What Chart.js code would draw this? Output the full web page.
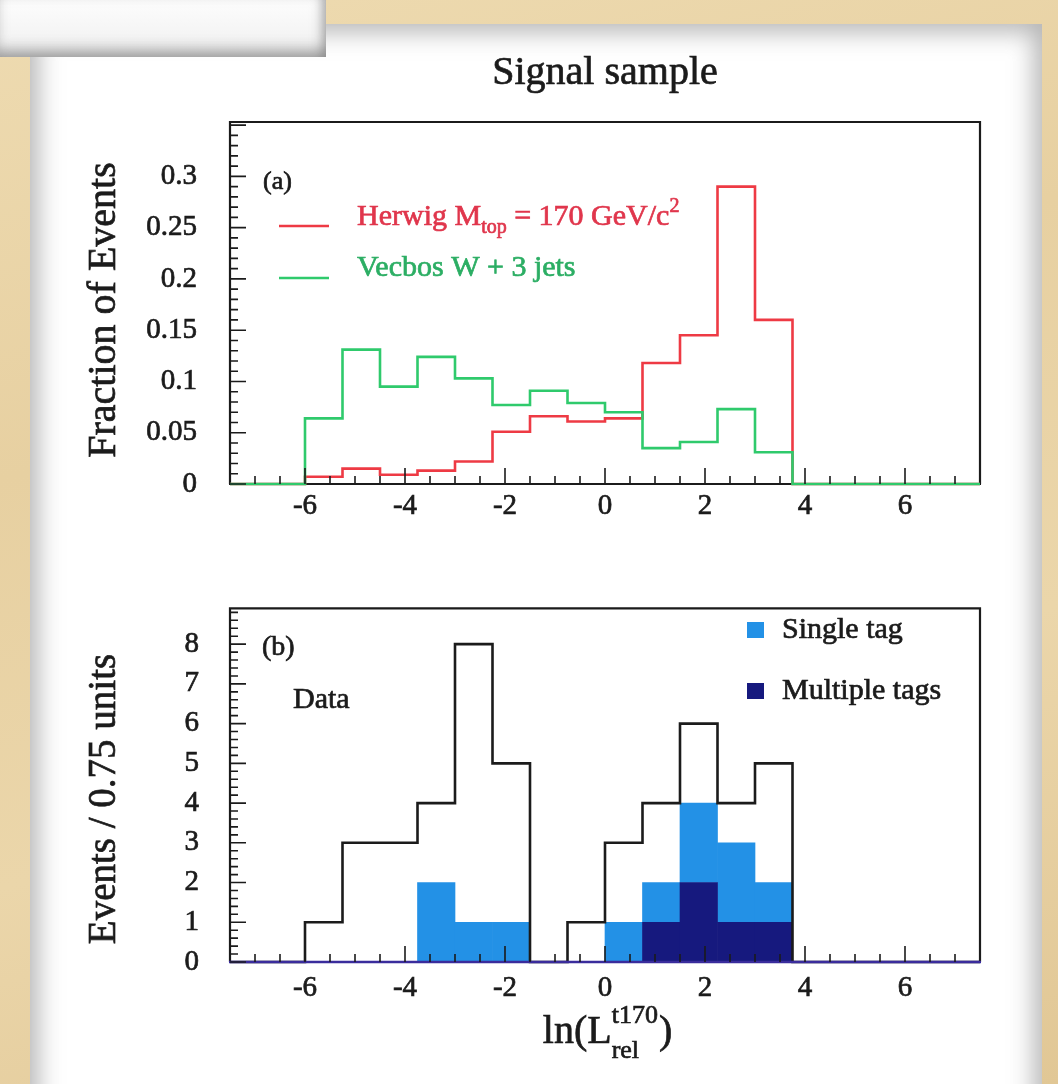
<!DOCTYPE html>
<html>
<head>
<meta charset="utf-8">
<title>Signal sample</title>
<script src="https://cdn.jsdelivr.net/npm/chart.js@4.4.1/dist/chart.umd.min.js"></script>
<style>
  html, body { margin: 0; padding: 0; }
  body {
    width: 1058px; height: 1084px; overflow: hidden; position: relative;
    background: linear-gradient(165deg, #eedbb1 0%, #e7d0a1 35%, #ebd6aa 65%, #e1c795 100%);
  }
  .panel {
    position: absolute; left: 30px; top: 24px; width: 1012px; height: 1100px;
    background: #fff;
    box-shadow: inset 0 0 24px 8px rgba(120, 120, 120, 0.55);
  }
  .strip {
    position: absolute; left: 0; top: 0; width: 326px; height: 57px;
    background: linear-gradient(#fdfdfd, #efefef);
    box-shadow: inset 0 -12px 14px -5px rgba(110, 110, 110, 0.6),
                inset -10px 0 12px -6px rgba(110, 110, 110, 0.5);
  }
  canvas { position: absolute; left: 0; }
  #top { top: 0; }
  #bottom { top: 560px; }
</style>
</head>
<body>
<div class="panel"></div>
<div class="strip"></div>
<canvas id="top" width="1058" height="560"></canvas>
<canvas id="bottom" width="1058" height="524"></canvas>
<script>
// histogram binning: 20 bins of 0.75 from -7.5 to 7.5
const binEdges = [-7.5, -6.75, -6, -5.25, -4.5, -3.75, -3, -2.25, -1.5, -0.75,
                  0, 0.75, 1.5, 2.25, 3, 3.75, 4.5, 5.25, 6, 6.75, 7.5];

// (a) normalised shapes
const herwigFrac = [0, 0, 0.007, 0.015, 0.009, 0.013, 0.022, 0.051, 0.066, 0.061,
                    0.064, 0.118, 0.145, 0.290, 0.160, 0, 0, 0, 0, 0];
const vecbosFrac = [0, 0, 0.064, 0.131, 0.095, 0.124, 0.103, 0.077, 0.091, 0.079,
                    0.070, 0.035, 0.041, 0.073, 0.031, 0, 0, 0, 0, 0];

// (b) event counts
const dataCounts = [0, 0, 1, 3, 3, 4, 8, 5, 0, 1, 3, 4, 6, 4, 5, 0, 0, 0, 0, 0];
const singleTag  = [0, 0, 0, 0, 0, 2, 1, 1, 0, 0, 1, 1, 2, 2, 1, 0, 0, 0, 0, 0];
const multiTag   = [0, 0, 0, 0, 0, 0, 0, 0, 0, 0, 0, 1, 2, 1, 1, 0, 0, 0, 0, 0];

const xTicks = [-6, -4, -2, 0, 2, 4, 6];
const fracTicks = [0, 0.05, 0.1, 0.15, 0.2, 0.25, 0.3];
const countTicks = [0, 1, 2, 3, 4, 5, 6, 7, 8];

const RED = '#ee3a44';
const GREEN = '#2fca6c';
const LIGHT_BLUE = '#2391e6';
const NAVY = '#16197e';
const INK = '#1b1b1b';
const WEIGHT = 0.7; // thin outline so the serif text reads a little heavier

Chart.defaults.font.family = '"Liberation Serif", "Times New Roman", serif';
Chart.defaults.color = INK;

const serif = size => `${size}px "Liberation Serif", "Times New Roman", serif`;

// outline histogram: one point per bin edge, held until the next edge
const stepPoints = vals => binEdges.map((e, i) => ({x: e, y: vals[Math.min(i, vals.length - 1)]}));
const binCenters = binEdges.slice(0, -1).map((e, i) => (e + binEdges[i + 1]) / 2);
const barPoints = vals => binCenters.map((c, i) => ({x: c, y: vals[i]}));

function text(ctx, s, x, y) {
  ctx.strokeStyle = ctx.fillStyle;
  ctx.lineWidth = WEIGHT;
  ctx.fillText(s, x, y);
  ctx.strokeText(s, x, y);
}

function drawParts(ctx, x, y, parts) {
  let cx = x;
  parts.forEach(p => {
    ctx.font = serif(p.size);
    text(ctx, p.text, cx, y + (p.dy || 0));
    cx += ctx.measureText(p.text).width;
  });
  return cx;
}

function drawFrameBox(chart) {
  const {ctx, chartArea: a} = chart;
  ctx.save();
  ctx.lineWidth = 2.2;
  ctx.strokeStyle = INK;
  ctx.beginPath();
  ctx.moveTo(a.left, a.bottom);
  ctx.lineTo(a.left, a.top);
  ctx.lineTo(a.right, a.top);
  ctx.lineTo(a.right, a.bottom);
  ctx.stroke();
  ctx.restore();
}

function drawBase(chart, o) {
  const {ctx, chartArea: a} = chart;
  ctx.save();
  ctx.lineWidth = o.baseWidth;
  ctx.strokeStyle = o.baseColor;
  ctx.beginPath();
  ctx.moveTo(a.left - 1, a.bottom);
  ctx.lineTo(a.right + 1, a.bottom);
  ctx.stroke();
  ctx.restore();
}

// inward ROOT-style tick marks on the bottom and left edges
function drawTicks(chart, o) {
  const {ctx, chartArea: a, scales: {x, y}} = chart;
  const isMajor = (v, step) => Math.abs(v / step - Math.round(v / step)) < 1e-6;
  ctx.save();
  ctx.strokeStyle = INK;
  ctx.lineWidth = 1.6;
  ctx.beginPath();
  for (let k = 1; ; k++) {
    const v = x.min + k * o.xMinor;
    if (v >= x.max - 1e-9) break;
    const px = x.getPixelForValue(v);
    ctx.moveTo(px, a.bottom);
    ctx.lineTo(px, a.bottom - (isMajor(v, o.xMajor) ? 16 : 8));
  }
  for (let k = 0; ; k++) {
    const v = y.min + k * o.yMinor;
    if (v >= y.max - 1e-9) break;
    const py = y.getPixelForValue(v);
    ctx.moveTo(a.left, py);
    ctx.lineTo(a.left + (isMajor(v, o.yMajor) ? 16 : 8), py);
  }
  ctx.stroke();
  ctx.restore();
}

const rootFrame = {
  id: 'rootFrame',
  beforeDatasetsDraw(chart, args, o) {
    drawFrameBox(chart);
    if (!o.baseOnTop) drawBase(chart, o);
  },
  afterDatasetsDraw(chart, args, o) {
    if (o.baseOnTop) drawBase(chart, o);
    drawTicks(chart, o);
  }
};

function yTitle(ctx, s, size, cx, cy) {
  ctx.save();
  ctx.translate(cx, cy);
  ctx.rotate(-Math.PI / 2);
  ctx.textAlign = 'center';
  ctx.textBaseline = 'middle';
  ctx.font = serif(size);
  text(ctx, s, 0, 0);
  ctx.restore();
}

const topText = {
  id: 'topText',
  afterDraw(chart) {
    const ctx = chart.ctx;
    ctx.save();
    ctx.fillStyle = INK;
    ctx.textAlign = 'center';
    ctx.font = serif(40);
    text(ctx, 'Signal sample', 605, 84);
    yTitle(ctx, 'Fraction of Events', 40, 104, 310);

    ctx.textAlign = 'left';
    ctx.font = serif(26);
    text(ctx, '(a)', 263, 189);

    // legend
    ctx.lineWidth = 2.6;
    ctx.strokeStyle = RED;
    ctx.beginPath(); ctx.moveTo(279, 226); ctx.lineTo(329, 226); ctx.stroke();
    ctx.strokeStyle = GREEN;
    ctx.beginPath(); ctx.moveTo(279, 278); ctx.lineTo(329, 278); ctx.stroke();

    ctx.fillStyle = '#e0364c';
    drawParts(ctx, 357, 225, [
      {text: 'Herwig M', size: 30},
      {text: 'top', size: 20, dy: 8},
      {text: ' = 170 GeV/c', size: 30},
      {text: '2', size: 20, dy: -13}
    ]);
    ctx.fillStyle = '#2cae64';
    drawParts(ctx, 357, 276, [{text: 'Vecbos W + 3 jets', size: 30}]);
    ctx.restore();
  }
};

const bottomText = {
  id: 'bottomText',
  afterDraw(chart) {
    const ctx = chart.ctx;
    ctx.save();
    ctx.fillStyle = INK;
    yTitle(ctx, 'Events / 0.75 units', 39, 105, 239);

    ctx.textAlign = 'left';
    ctx.textBaseline = 'middle';
    ctx.font = serif(28);
    text(ctx, '(b)', 262, 88);
    ctx.font = serif(30);
    text(ctx, 'Data', 293, 140);

    // legend
    ctx.fillStyle = LIGHT_BLUE;
    ctx.fillRect(747, 62, 17, 16);
    ctx.fillStyle = NAVY;
    ctx.fillRect(747, 123, 17, 16);
    ctx.fillStyle = INK;
    ctx.font = serif(30);
    text(ctx, 'Single tag', 782, 70);
    text(ctx, 'Multiple tags', 782, 131);

    // x title: ln(L_rel^t170)
    ctx.textBaseline = 'alphabetic';
    ctx.font = serif(40);
    const wMain = ctx.measureText('ln(L').width;
    const wClose = ctx.measureText(')').width;
    ctx.font = serif(26);
    const wScript = Math.max(ctx.measureText('t170').width, ctx.measureText('rel').width);
    const x0 = 607 - (wMain + wScript + wClose) / 2;
    ctx.font = serif(40);
    text(ctx, 'ln(L', x0, 483);
    ctx.font = serif(26);
    text(ctx, 't170', x0 + wMain, 463);
    text(ctx, 'rel', x0 + wMain, 498);
    ctx.font = serif(40);
    text(ctx, ')', x0 + wMain + wScript + 1, 483);
    ctx.restore();
  }
};

function xScale(height, pad) {
  return {
    type: 'linear', min: -7.5, max: 7.5, offset: false,
    grid: {display: false, drawTicks: false},
    border: {display: false},
    afterFit: s => { s.height = height; },
    afterBuildTicks: s => { s.ticks = xTicks.map(v => ({value: v})); },
    ticks: {padding: pad, autoSkip: false, maxRotation: 0, color: INK,
             textStrokeColor: INK, textStrokeWidth: WEIGHT,
             font: {size: 29}, callback: v => String(v)}
  };
}

function yScale(max, ticks, pad, stacked) {
  return {
    min: 0, max: max, stacked: stacked,
    grid: {display: false, drawTicks: false},
    border: {display: false},
    afterFit: s => { s.width = 230; },
    afterBuildTicks: s => { s.ticks = ticks.map(v => ({value: v})); },
    ticks: {padding: pad, autoSkip: false, color: INK,
             textStrokeColor: INK, textStrokeWidth: WEIGHT,
             font: {size: 29}, callback: v => String(v)}
  };
}

const common = {
  responsive: false,
  animation: false,
  events: [],
  devicePixelRatio: 1
};

new Chart(document.getElementById('top'), {
  type: 'line',
  data: {
    datasets: [
      {label: 'Vecbos W + 3 jets', data: stepPoints(vecbosFrac), stepped: true,
       borderColor: GREEN, borderWidth: 2.6, pointRadius: 0, fill: false, clip: false},
      {label: 'Herwig', data: stepPoints(herwigFrac), stepped: true,
       borderColor: RED, borderWidth: 2.6, pointRadius: 0, fill: false, clip: false}
    ]
  },
  options: Object.assign({}, common, {
    layout: {padding: {top: 122, right: 78, left: 0, bottom: 0}},
    scales: {x: xScale(76, 5), y: yScale(0.353, fracTicks, 33, false)},
    plugins: {
      legend: {display: false},
      tooltip: {enabled: false},
      rootFrame: {xMinor: 0.5, xMajor: 2, yMinor: 0.01, yMajor: 0.05,
                  baseColor: INK, baseWidth: 2.2, baseOnTop: false}
    }
  }),
  plugins: [rootFrame, topText]
});

new Chart(document.getElementById('bottom'), {
  type: 'bar',
  data: {
    datasets: [
      {type: 'line', label: 'Data', data: stepPoints(dataCounts), stepped: true,
       borderColor: INK, borderWidth: 2.6, pointRadius: 0, fill: false, clip: false,
       stack: 'data', order: 0},
      {label: 'Multiple tags', data: barPoints(multiTag), backgroundColor: NAVY,
       borderWidth: 0, barPercentage: 1, categoryPercentage: 1, stack: 'tags', order: 1},
      {label: 'Single tag', data: barPoints(singleTag), backgroundColor: LIGHT_BLUE,
       borderWidth: 0, barPercentage: 1, categoryPercentage: 1, stack: 'tags', order: 2}
    ]
  },
  options: Object.assign({}, common, {
    layout: {padding: {top: 43, right: 78, left: 0, bottom: 0}},
    scales: {x: xScale(122, 9), y: yScale(8.9, countTicks, 31, true)},
    plugins: {
      legend: {display: false},
      tooltip: {enabled: false},
      rootFrame: {xMinor: 0.5, xMajor: 2, yMinor: 0.2, yMajor: 1,
                  baseColor: '#3a2c9c', baseWidth: 2.6, baseOnTop: true}
    }
  }),
  plugins: [rootFrame, bottomText]
});
</script>
</body>
</html>
